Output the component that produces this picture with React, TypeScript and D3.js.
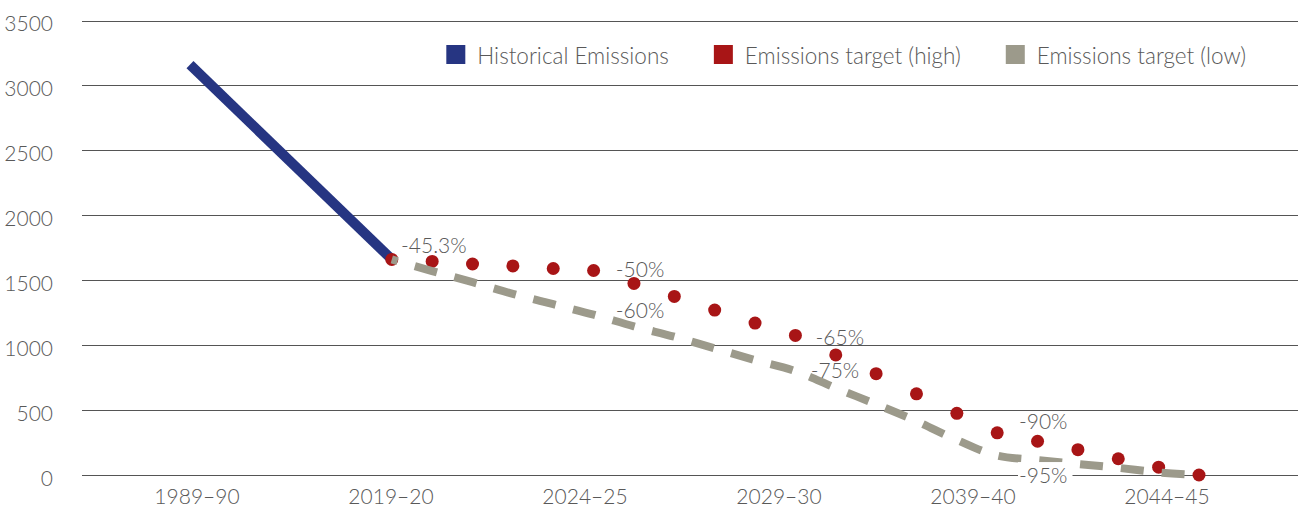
import React, { useEffect, useRef } from 'react';
import * as d3 from 'd3';

// category labels on the x axis
const categories = ['1989–90', '2019–20', '2024–25', '2029–30', '2039–40', '2044–45'];

// historical emissions (step index, value)
const historicalSteps = [0, 5];
const historicalValues = [3160, 1660];

// targets, one value per step from 2019–20 onwards
const targetSteps = [5, 6, 7, 8, 9, 10, 11, 12, 13, 14, 15, 16, 17, 18, 19, 20, 21, 22, 23, 24, 25];
const targetHigh = [1660, 1645, 1625, 1610, 1590, 1575, 1475, 1375, 1270, 1170, 1075, 925, 780, 625, 475, 325, 260, 195, 125, 60, 0];
const targetLow = [1660, 1570, 1485, 1395, 1315, 1235, 1145, 1065, 975, 885, 800, 670, 545, 415, 270, 150, 115, 85, 55, 20, 0];

const yTicks = [0, 500, 1000, 1500, 2000, 2500, 3000, 3500];

// percentage notes (step index, value at text baseline)
const noteTexts = ['-45.3%', '-50%', '-60%', '-65%', '-75%', '-90%', '-95%'];
const noteSteps = [5.23, 10.55, 10.55, 15.5, 15.38, 20.54, 20.54];
const noteValues = [1711, 1527, 1210, 1002, 748, 355, -62];

const legendNames = ['Historical Emissions', 'Emissions target (high)', 'Emissions target (low)'];
const legendColors = ['#263582', '#A81516', '#9C9A8B'];

const FONT = 'Lato, "Open Sans", sans-serif';
const TEXT_COLOR = '#595959';

interface Pt {
  x: number;
  y: number;
}

const EmissionsChart: React.FC = () => {
  const svgRef = useRef<SVGSVGElement>(null);

  useEffect(() => {
    if (!svgRef.current) return;
    const svg = d3.select(svgRef.current);
    svg.selectAll('*').remove();

    const width = 1298;
    const left = 82;

    const x = d3.scaleLinear().domain([0, 25]).range([190, 1199]);
    const y = d3.scaleLinear().domain([0, 3500]).range([475, 20.5]);
    const xCat = d3.scalePoint<string>().domain(categories).range([197, 1167]);

    // gridlines
    svg.append('g')
      .selectAll('line')
      .data(yTicks)
      .join('line')
      .attr('x1', left)
      .attr('x2', width)
      .attr('y1', d => Math.round(y(d)) + 0.5)
      .attr('y2', d => Math.round(y(d)) + 0.5)
      .attr('stroke', '#555')
      .attr('stroke-width', 1);

    // y tick labels
    svg.append('g')
      .selectAll('text')
      .data(yTicks)
      .join('text')
      .attr('x', 53)
      .attr('y', d => y(d) + 2)
      .attr('text-anchor', 'end')
      .attr('dominant-baseline', 'central')
      .attr('font-family', FONT)
      .attr('font-weight', 300)
      .attr('font-size', 21)
      .attr('fill', TEXT_COLOR)
      .text(d => d);

    // x category labels
    svg.append('g')
      .selectAll('text')
      .data(categories)
      .join('text')
      .attr('x', d => xCat(d) as number)
      .attr('y', 495)
      .attr('text-anchor', 'middle')
      .attr('dominant-baseline', 'central')
      .attr('font-family', FONT)
      .attr('font-weight', 300)
      .attr('font-size', 21)
      .attr('fill', TEXT_COLOR)
      .text(d => d);

    const line = d3.line<Pt>().x(d => x(d.x)).y(d => y(d.y));

    // historical
    const hist: Pt[] = historicalSteps.map((s, i) => ({ x: s, y: historicalValues[i] }));
    svg.append('path')
      .datum(hist)
      .attr('d', line)
      .attr('fill', 'none')
      .attr('stroke', legendColors[0])
      .attr('stroke-width', 10);

    // high target dots
    const high: Pt[] = targetSteps.map((s, i) => ({ x: s, y: targetHigh[i] }));
    svg.append('g')
      .selectAll('circle')
      .data(high)
      .join('circle')
      .attr('cx', d => x(d.x))
      .attr('cy', d => y(d.y))
      .attr('r', 6.5)
      .attr('fill', legendColors[1]);

    // low target dashed line
    const low: Pt[] = targetSteps.map((s, i) => ({ x: s, y: targetLow[i] }));
    svg.append('path')
      .datum(low)
      .attr('d', line.curve(d3.curveMonotoneX))
      .attr('fill', 'none')
      .attr('stroke', legendColors[2])
      .attr('stroke-width', 8)
      .attr('stroke-dasharray', '23 18')
      .attr('stroke-dashoffset', 17);

    // percentage notes
    const notes = svg.append('g');
    noteTexts.forEach((t, i) => {
      const txt = notes.append('text')
        .attr('x', x(noteSteps[i]))
        .attr('y', y(noteValues[i]))
        .attr('font-family', FONT)
        .attr('font-weight', 300)
        .attr('font-size', 21)
        .attr('fill', TEXT_COLOR)
        .text(t);
      if (t === '-95%') {
        const b = (txt.node() as SVGTextElement).getBBox();
        notes.insert('rect', 'text:last-child')
          .attr('x', b.x - 1)
          .attr('y', b.y)
          .attr('width', b.width + 6)
          .attr('height', b.height)
          .attr('fill', '#fff');
      }
    });

    // legend, right-aligned
    const legend = svg.append('g');
    let cursor = 0;
    const items: { g: d3.Selection<SVGGElement, unknown, null, undefined>; w: number }[] = [];
    legendNames.forEach((name, i) => {
      const g = legend.append('g');
      g.append('rect')
        .attr('x', 0)
        .attr('y', 45)
        .attr('width', 19)
        .attr('height', 19)
        .attr('fill', legendColors[i]);
      const t = g.append('text')
        .attr('x', 31)
        .attr('y', 55)
        .attr('dominant-baseline', 'central')
        .attr('font-family', FONT)
        .attr('font-weight', 300)
        .attr('font-size', 22.5)
        .attr('fill', TEXT_COLOR)
        .text(name);
      const w = 31 + (t.node() as SVGTextElement).getComputedTextLength();
      items.push({ g, w });
    });
    const total = d3.sum(items, d => d.w) + 45 * (items.length - 1);
    cursor = 1246 - total;
    items.forEach(it => {
      it.g.attr('transform', `translate(${cursor},0)`);
      cursor += it.w + 45;
    });
  }, []);

  return (
    <svg
      ref={svgRef}
      width={1298}
      height={508}
      style={{ position: 'absolute', left: 0, top: 0, background: '#fff' }}
    ></svg>
  );
};

export default function App() {
  return <EmissionsChart />;
}
